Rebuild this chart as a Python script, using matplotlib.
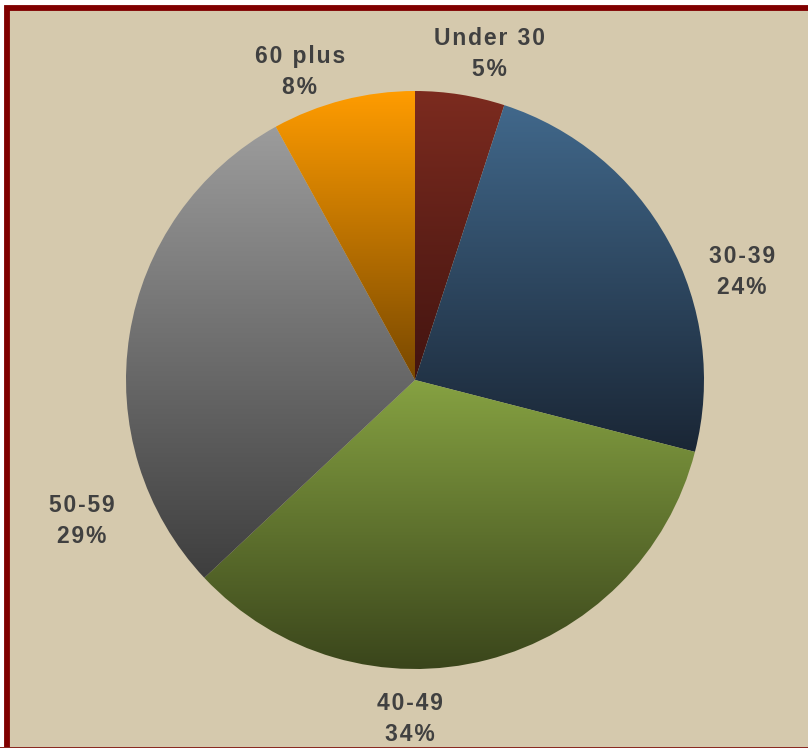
import numpy as np
import matplotlib.pyplot as plt
from matplotlib.colors import LinearSegmentedColormap
from matplotlib.patches import Rectangle

# age bands and their share of the total (percent)
age_groups = ['Under 30', '30-39', '40-49', '50-59', '60 plus']
shares = [5, 24, 34, 29, 8]

# gradient colours per slice (top -> bottom)
top_colors = ['#7c2b1f', '#41688b', '#86a242', '#9c9c9c', '#ff9c00']
bottom_colors = ['#421410', '#1a2635', '#3a451b', '#3e3e3e', '#784800']

# label anchor points in pixels (x, y from top)
label_pos = [(489, 54), (742, 272), (410, 719), (82, 521), (300, 72)]

bg = '#d5c9ad'
txt_color = '#404040'


def spaced(s):
    # the original labels are letter-spaced; emulate with hair spaces
    return '\u200a'.join(s)


fig = plt.figure(figsize=(8.08, 7.48), dpi=100)
fig.patch.set_facecolor('white')

# tan panel with the dark red frame
frame = Rectangle((6.5 / 808, -0.01), 1.05, (748 - 7.5) / 748 + 0.01,
                  transform=fig.transFigure, facecolor=bg,
                  edgecolor='#800000', linewidth=4.2, zorder=0)
fig.patches.append(frame)
fig.add_artist(Rectangle((0, 0), 1, 1.5 / 748, transform=fig.transFigure,
                         facecolor='#8b2a22', edgecolor='none', zorder=1))

ax = fig.add_axes([0, 0, 1, 1])
ax.set_zorder(5)
ax.set_facecolor('none')

wedges, _ = ax.pie(shares, startangle=-90, counterclock=True,
                   center=(415, 380), radius=289,
                   wedgeprops=dict(linewidth=0), frame=True)
ax.set_xlim(0, 808)
ax.set_ylim(748, 0)
ax.set_aspect('equal', adjustable='box')
ax.axis('off')

fig.canvas.draw()
inv = ax.transData.inverted()
for w, c0, c1 in zip(wedges, top_colors, bottom_colors):
    verts = inv.transform(w.get_verts())
    x0, y0 = verts.min(axis=0)
    x1, y1 = verts.max(axis=0)
    cmap = LinearSegmentedColormap.from_list('g', [c0, c1])
    grad = np.linspace(0, 1, 256).reshape(-1, 1)
    im = ax.imshow(grad, cmap=cmap, aspect='auto', origin='upper',
                   extent=(x0, x1, y1, y0), interpolation='bilinear', zorder=2)
    im.set_clip_path(w)
    w.set_facecolor('none')

ax.set_xlim(0, 808)
ax.set_ylim(748, 0)

for name, pct, (lx, ly) in zip(age_groups, shares, label_pos):
    ax.text(lx, ly, spaced(name) + '\n' + spaced(f'{pct}%'),
            ha='center', va='center', fontsize=16.5, fontweight='bold',
            color=txt_color, family=['Liberation Sans', 'DejaVu Sans'],
            linespacing=1.45, zorder=3)

fig.savefig('out.png', dpi=100, facecolor=fig.get_facecolor())
